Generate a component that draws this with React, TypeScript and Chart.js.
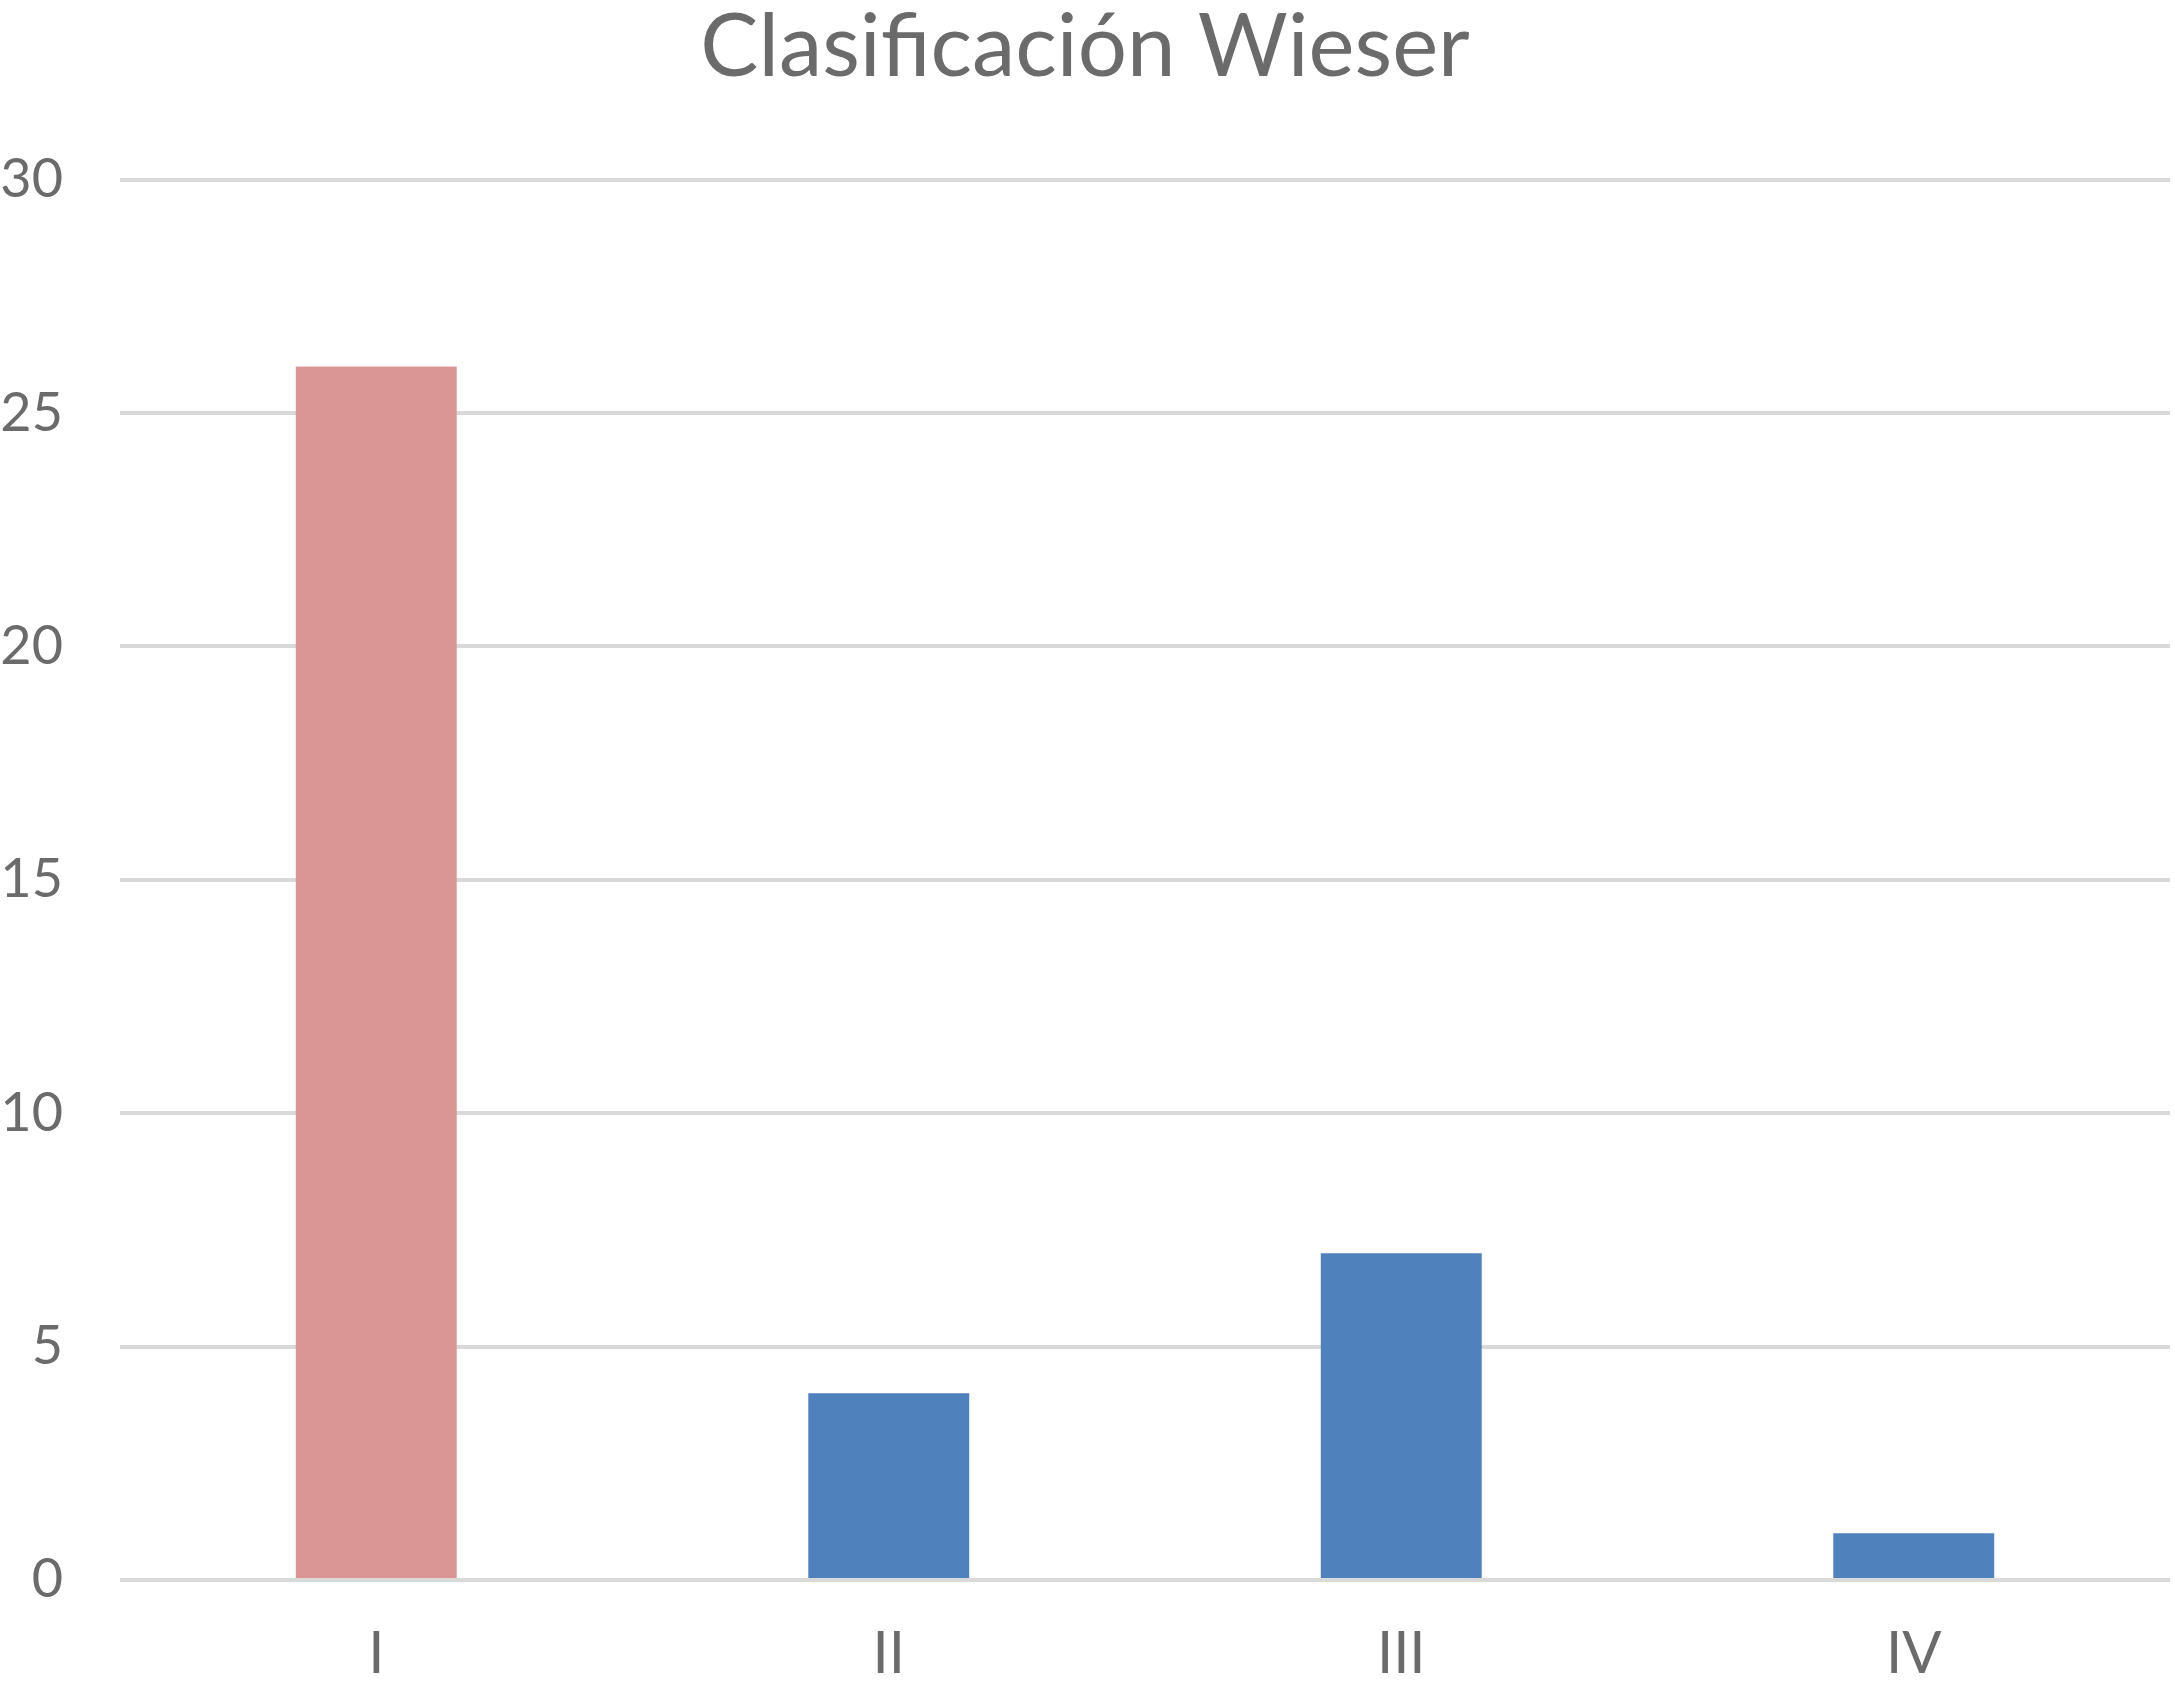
import React, { useEffect, useRef } from "react";
import { Chart, registerables } from "chart.js";

Chart.register(...registerables);

const categories = ["I", "II", "III", "IV"];
const counts = [26, 4, 7, 1];
const barColors = ["#DA9694", "#4F81BD", "#4F81BD", "#4F81BD"];
const titleText = "Clasificación Wieser";
const yMin = 0;
const yMax = 30;
const yStep = 5;

export default function App() {
  const ref = useRef<HTMLCanvasElement | null>(null);

  useEffect(() => {
    if (!ref.current) return;
    const chart = new Chart(ref.current, {
      type: "bar",
      data: {
        labels: categories,
        datasets: [
          {
            data: counts,
            backgroundColor: barColors,
            borderWidth: 0,
            barPercentage: 0.314,
            categoryPercentage: 1,
          },
        ],
      },
      options: {
        animation: false,
        responsive: false,
        maintainAspectRatio: false,
        layout: { padding: { left: 0, right: 5, top: 0, bottom: 0 } },
        plugins: {
          legend: { display: false },
          tooltip: { enabled: false },
          title: {
            display: true,
            text: titleText,
            color: "#6b6b6b",
            font: { family: "Lato", size: 87, weight: "normal", lineHeight: 1.1 },
            padding: { top: 0, bottom: 84 },
          },
        },
        scales: {
          x: {
            grid: { display: false, drawTicks: false },
            border: { display: false },
            afterFit: (scale: any) => {
              scale.height = 103;
            },
            ticks: {
              color: "#6b6b6b",
              font: { family: "Lato", size: 58, lineHeight: 1.0 },
              padding: 45,
            },
          },
          y: {
            min: yMin,
            max: yMax,
            grid: { color: "#d9d9d9", lineWidth: 4, drawTicks: false },
            border: { display: false },
            afterFit: (scale: any) => {
              scale.width = 120;
            },
            ticks: {
              stepSize: yStep,
              color: "#6b6b6b",
              font: { family: "Lato", size: 54 },
              padding: 57,
            },
          },
        },
      },
    });
    return () => chart.destroy();
  }, []);

  return (
    <div style={{ position: "fixed", left: 0, top: 0, width: 2175, height: 1683, background: "#fff" }}>
      <canvas ref={ref} width={2175} height={1683} style={{ width: 2175, height: 1683 }} />
    </div>
  );
}
